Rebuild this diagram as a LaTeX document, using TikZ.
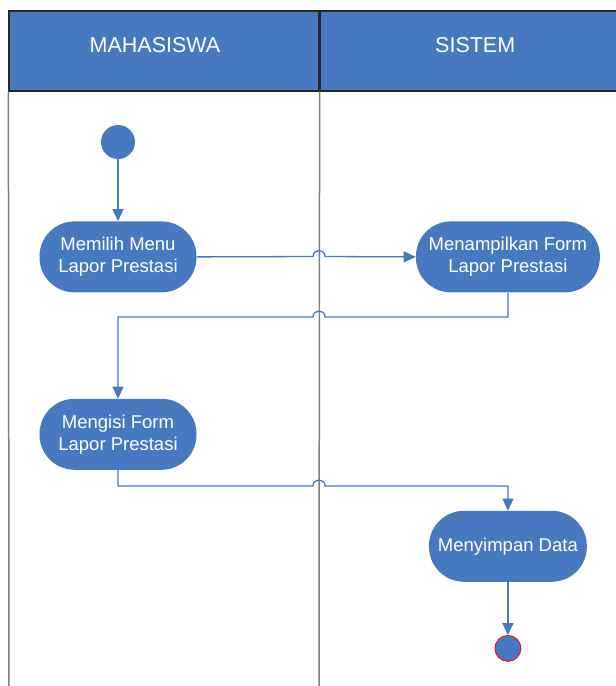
\documentclass[tikz,border=0pt]{standalone}
\usepackage{fontspec}
\setmainfont{Liberation Sans}
\usetikzlibrary{positioning,arrows.meta}
\definecolor{actblue}{RGB}{71,121,192}
\definecolor{lanegray}{RGB}{128,128,128}

\begin{document}
\begin{tikzpicture}[
    x=1pt, y=-1pt,
    lane/.style={rectangle, draw=black!85, fill=actblue, line width=1.2pt, minimum width=310pt, inner sep=0pt, text height=41pt, text depth=39pt, text=white, font=\fontsize{21.5}{26}\selectfont},
    laneline/.style={draw=lanegray, line width=1.5pt},
    act/.style={rectangle, rounded corners=35pt, fill=actblue, minimum width=157pt, minimum height=71pt, inner xsep=9pt, align=center, text=white, font=\fontsize{18.5}{22}\selectfont},
    initnode/.style={circle, fill=actblue, minimum size=34pt, inner sep=0pt},
    finalnode/.style={circle, fill=actblue, draw=red, line width=0.8pt, minimum size=26pt, inner sep=0pt},
    flow/.style={-{Triangle[length=12pt,width=11pt]}, draw=actblue, line width=1.3pt},
]
\useasboundingbox (0,0) rectangle (616,686);

% Swimlanes
\node[lane] (mhs) at (164,51) {MAHASISWA\hspace*{18pt}};
\node[lane, right=0pt of mhs] (sis) {SISTEM};
\coordinate (leftend) at (9,686);
\coordinate (midend) at (319,686);
\draw[laneline] (mhs.south west) -- (leftend);
\draw[laneline] (mhs.south east) -- (midend);

% Activities
\node[initnode] (mulai) at (118,142) {};
\node[act, below=62pt of mulai] (memilih) {Memilih Menu\\Lapor Prestasi};
\node[act, right=219pt of memilih, minimum width=184pt] (menampilkan) {Menampilkan Form\\Lapor Prestasi};
\node[act, below=106pt of memilih] (mengisi) {Mengisi Form\\Lapor Prestasi};
\node[act, below=218pt of menampilkan] (menyimpan) {Menyimpan Data};
\node[finalnode, below=53pt of menyimpan] (selesai) {};

% Flows (with hops over the lane line)
\draw[flow] (mulai) -- (memilih);
\draw[flow] (memilih.east) -- (313,256.5) .. controls (313,248.5) and (325,248.5) .. (325,256.5) -- (menampilkan.west);
\draw[flow] (menampilkan.south) -- (508,317) -- (325,317) .. controls (325,309) and (313,309) .. (313,317) -- (118,317) -- (mengisi.north);
\draw[flow] (mengisi.south) -- (118,486) -- (313,486) .. controls (313,478) and (325,478) .. (325,486) -- (508,486) -- (menyimpan.north);
\draw[flow] (menyimpan) -- (selesai);

\end{tikzpicture}
\end{document}
